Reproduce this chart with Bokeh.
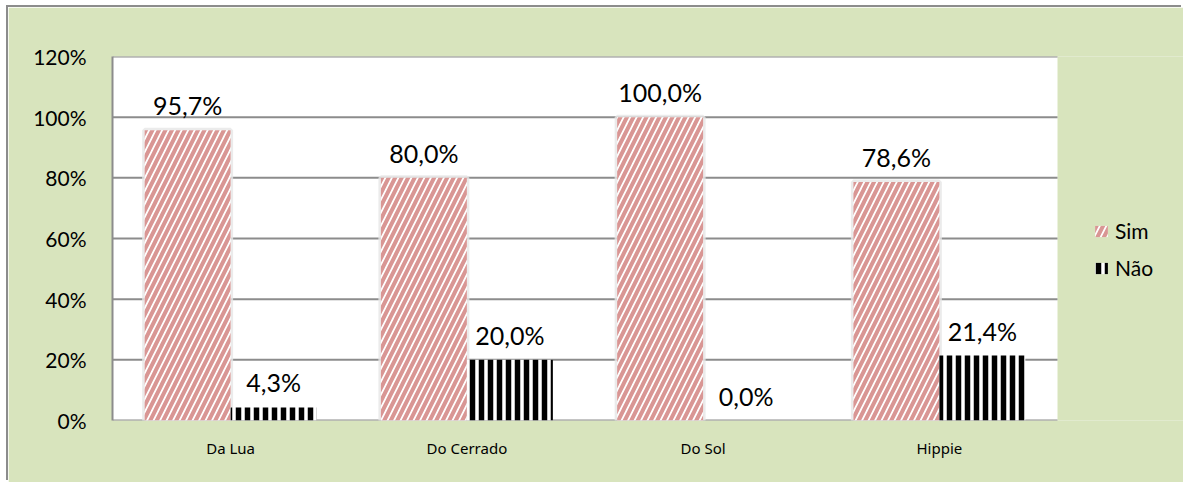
from bokeh.plotting import figure
from bokeh.models import (Range1d, FixedTicker, PrintfTickFormatter,
                          ColumnDataSource, Legend, LegendItem)
from bokeh.core.properties import value
from bokeh.embed import file_html
from bokeh.resources import INLINE

categories = ["Da Lua", "Do Cerrado", "Do Sol", "Hippie"]
sim = [95.7, 80.0, 100.0, 78.6]
nao = [4.3, 20.0, 0.0, 21.4]
y_ticks = [0, 20, 40, 60, 80, 100, 120]
series_names = ["Sim", "Não"]


def fmt(v):
    return f"{v:.1f}%".replace(".", ",")


idx = list(range(len(categories)))
BW = 0.364
OFF = 0.182

src = ColumnDataSource(dict(
    xs=[i - OFF for i in idx], xn=[i + OFF for i in idx], sim=sim, nao=nao,
    sim_lbl=[fmt(v) for v in sim], nao_lbl=[fmt(v) for v in nao],
))

GREEN = "#D8E4BD"
GRID = "#8c8c8c"
FONT = value("Lato")
W, H = 1175, 475
X0, X1 = -0.5, len(categories) - 0.5          # plot area in category units
FRAME_W = W - 104
XEND = X0 + (X1 - X0) * FRAME_W / 945.0        # frame continues under the legend

SIM_HATCH = dict(fill_color="white", hatch_pattern="right_diagonal_line",
                 hatch_color="#D99694", hatch_scale=13, hatch_weight=4)
NAO_HATCH = dict(fill_color="white", hatch_pattern="vertical_line",
                 hatch_color="black", hatch_scale=9, hatch_weight=5.5)

p = figure(x_range=Range1d(X0, XEND), y_range=Range1d(0, 120),
           width=W, height=H, output_backend="svg", toolbar_location=None,
           min_border_left=104, min_border_right=0, min_border_top=49,
           min_border_bottom=H - 413)
p.border_fill_color = GREEN
p.background_fill_color = GREEN
p.outline_line_color = None
p.margin = (7, 0, 0, 8)
p.styles = {"box-shadow": "-2px -2px 0 0 #8c8c8c"}

# white plot area
p.quad(left=[X0], right=[X1], bottom=[0], top=[y_ticks[-1]],
       fill_color="white", line_color=None)
# horizontal gridlines limited to the plot area
p.segment(x0=[X0] * len(y_ticks), x1=[X1] * len(y_ticks), y0=y_ticks, y1=y_ticks,
          line_color=GRID, line_width=2)

# soft shadow behind the "Sim" bars
p.vbar(x="xs", top="sim", width=BW, source=src,
       fill_color="#f2f2f2", line_color="#e6e6e6", line_width=5, line_alpha=0.8)

r_sim = p.vbar(x="xs", top="sim", width=BW, source=src, line_color=None, **SIM_HATCH)
r_nao = p.vbar(x="xn", top="nao", width=BW, source=src, line_color=None, **NAO_HATCH)

p.text(x="xs", y="sim", text="sim_lbl", source=src,
       text_align="center", text_baseline="middle", y_offset=-25,
       text_font=FONT, text_font_size="25px", text_color="black")
p.text(x="xn", y="nao", text="nao_lbl", source=src,
       text_align="center", text_baseline="middle", y_offset=-25,
       text_font=FONT, text_font_size="25px", text_color="black")

# axes
p.yaxis.ticker = FixedTicker(ticks=y_ticks)
p.yaxis.formatter = PrintfTickFormatter(format="%d%%")
p.yaxis.major_label_text_font = "Lato"
p.yaxis.major_label_text_font_size = "21px"
p.yaxis.major_label_text_color = "black"
p.yaxis.major_tick_line_color = None
p.yaxis.minor_tick_line_color = None
p.yaxis.major_label_standoff = 20
p.yaxis.axis_line_color = GRID
p.yaxis.axis_line_width = 2

p.xaxis.ticker = FixedTicker(ticks=idx)
p.xaxis.major_label_overrides = {i: c for i, c in zip(idx, categories)}
p.xaxis.major_label_text_font = "Noto Sans"
p.xaxis.major_label_text_font_size = "15px"
p.xaxis.major_label_text_color = "black"
p.xaxis.major_tick_line_color = None
p.xaxis.minor_tick_line_color = None
p.xaxis.major_label_standoff = 11
p.xaxis.axis_line_color = None

p.xgrid.grid_line_color = None
p.ygrid.grid_line_color = None

legend = Legend(items=[LegendItem(label=series_names[0], renderers=[r_sim]),
                       LegendItem(label=series_names[1], renderers=[r_nao])],
                location=(981, 140), orientation="vertical",
                background_fill_alpha=0, border_line_alpha=0,
                glyph_width=16, glyph_height=14, label_height=20,
                spacing=12, label_standoff=6, margin=0, padding=0,
                label_text_font="Lato", label_text_font_size="21px",
                label_text_color="black")
p.add_layout(legend)

open("out.html", "w").write(file_html(p, INLINE))
